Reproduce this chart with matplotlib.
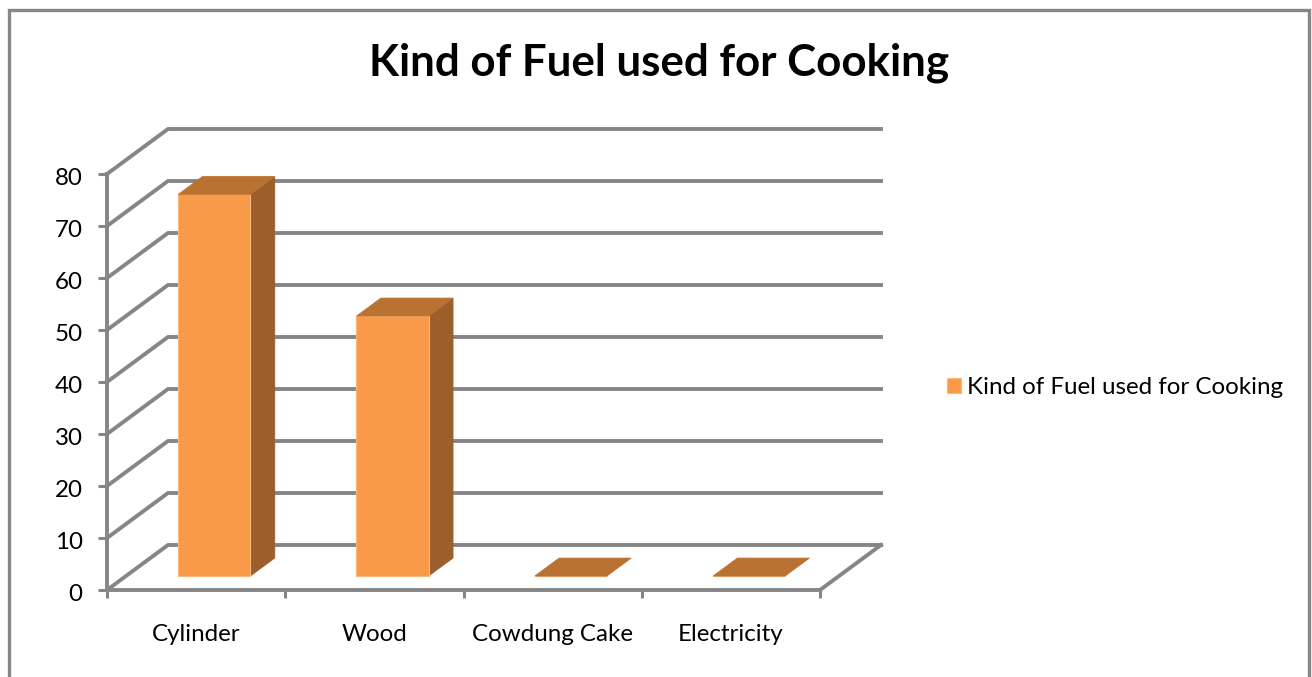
import matplotlib
matplotlib.use('Agg')
import matplotlib.pyplot as plt
from matplotlib.patches import Polygon, Rectangle
from matplotlib.transforms import ScaledTranslation

plt.rcParams['font.family'] = ['Lato', 'DejaVu Sans']

categories = ['Cylinder', 'Wood', 'Cowdung Cake', 'Electricity']
values = [73.4, 50, 0, 0]
y_ticks = [0, 10, 20, 30, 40, 50, 60, 70, 80]
title = 'Kind of Fuel used for Cooking'

W, H = 1312, 677
GREY = '#868686'
FRONT = '#F89A48'
TOP = '#B97232'
SIDE = '#9C5F2B'

# depth of the fake 3d box, in data units per full depth
DEPTH_X = 61 / 178.25
DEPTH_Y = 45 / 5.2
# bars sit between these fractions of the depth
D0, D1 = 0.31, 0.71
BAR_W = 0.405


def proj(x, y, d):
    return x + d * DEPTH_X, y + d * DEPTH_Y


fig = plt.figure(figsize=(W / 100, H / 100), dpi=100)
fig.patch.set_facecolor('white')
ax = fig.add_axes([107 / W, (H - 590) / H, (820 - 107) / W, (590 - 174) / H])
ax.set_xlim(0, len(categories))
ax.set_ylim(0, 80)
ax.patch.set_visible(False)

# outer chart border, bottom edge runs off the page
fig.add_artist(Rectangle((8.5 / W, -0.05), (1309 - 8.5) / W, 1.05 - 10 / H, transform=fig.transFigure,
                         fill=False, ec=GREY, lw=2.4))

# wall gridlines
x_end = len(categories)
for v in y_ticks:
    pts = [proj(0, v, 0), proj(0, v, 1), proj(x_end, v, 1)]
    ax.plot(*zip(*pts), color=GREY, lw=2.8, clip_on=False, zorder=1, solid_joinstyle='miter')
# floor right edge
ax.plot(*zip(proj(x_end, 0, 0), proj(x_end, 0, 1)), color=GREY, lw=2.8, clip_on=False, zorder=1)

centers = [i + 0.5 for i in range(len(categories))]
fx = [proj(c, 0, D0)[0] - 0.004 for c in centers]
fy = proj(0, 0, D0)[1]
bars = ax.bar(fx, values, width=BAR_W, bottom=fy, color=FRONT, edgecolor='#FBB77C', lw=0.8,
              clip_on=False, zorder=4, label=title)

for x, v in zip(fx, values):
    # bar() already placed the front face, so step back to the front plane
    c = x - D0 * DEPTH_X
    l, r = c - BAR_W / 2, c + BAR_W / 2
    side = [proj(r, 0, D0), proj(r, 0, D1), proj(r, v, D1), proj(r, v, D0)]
    top = [proj(l, v, D0), proj(r, v, D0), proj(r, v, D1), proj(l, v, D1)]
    if v > 0:
        ax.add_patch(Polygon(side, fc=SIDE, ec=SIDE, lw=0.5, clip_on=False, zorder=3))
    ax.add_patch(Polygon(top, fc=TOP, ec=TOP, lw=0.5, clip_on=False, zorder=5))

for s in ['top', 'right']:
    ax.spines[s].set_visible(False)
for s in ['left', 'bottom']:
    ax.spines[s].set_color(GREY)
    ax.spines[s].set_linewidth(2.8)
    ax.spines[s].set_zorder(2)

ax.set_yticks(y_ticks)
ax.tick_params(axis='y', length=6.5, width=2.2, color=GREY, pad=11, labelsize=17.4, labelcolor='black')
# y labels sit a little below their ticks in the original
nudge = ScaledTranslation(0, -2 / 72, fig.dpi_scale_trans)
for lab in ax.get_yticklabels():
    lab.set_transform(lab.get_transform() + nudge)
ax.set_xticks(range(len(categories) + 1))
ax.set_xticklabels([])
ax.tick_params(axis='x', which='major', length=6, width=2.2, color=GREY)
ax.set_xticks(centers, minor=True)
ax.set_xticklabels(categories, minor=True)
ax.tick_params(axis='x', which='minor', length=0, pad=24.5, labelsize=17.4, labelcolor='black')

fig.text(659 / W, 1 - 63 / H, title, ha='center', va='center', fontsize=31.6, fontweight='bold', color='black')

fig.legend(handles=[bars], labels=[title], loc='center left', bbox_to_anchor=(947 / W, 1 - 388 / H),
           frameon=False, fontsize=17.4, handlelength=0.58, handleheight=0.58, handletextpad=0.25,
           borderpad=0, borderaxespad=0)

fig.savefig('out.png', dpi=100)
